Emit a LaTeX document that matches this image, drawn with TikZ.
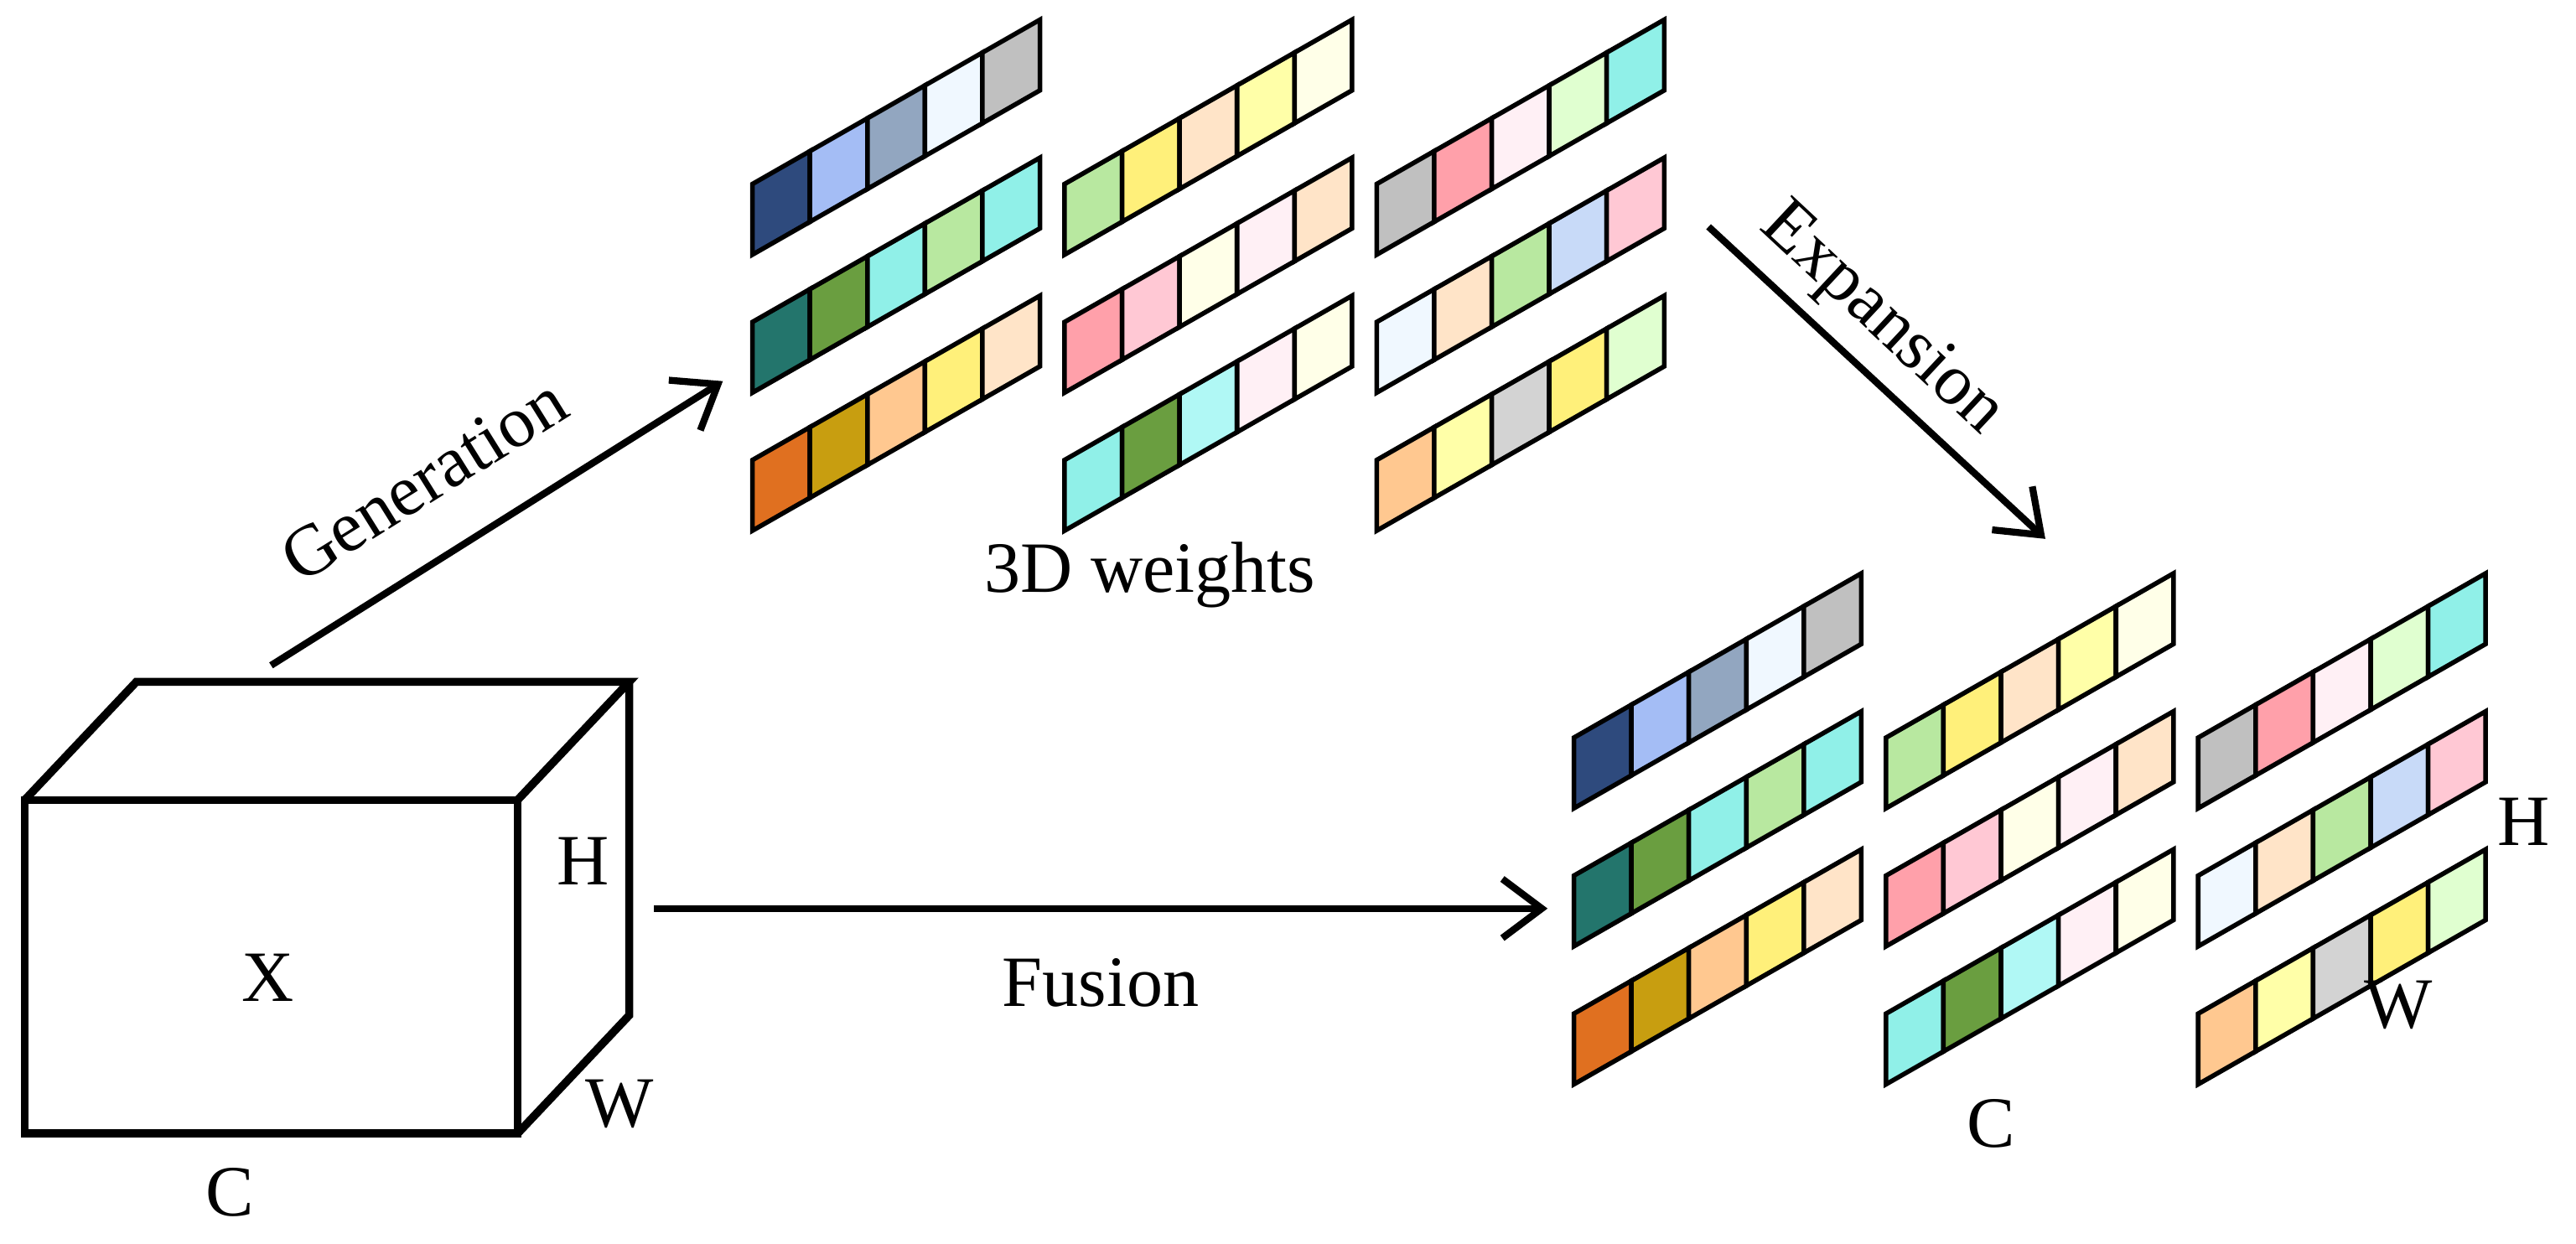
\documentclass[tikz,border=0pt]{standalone}
\usepackage{fontspec}
\setmainfont{Liberation Serif}
\usetikzlibrary{arrows.meta}
\definecolor{cA}{HTML}{2E4A7D}\definecolor{cB}{HTML}{A4BDF5}\definecolor{cC}{HTML}{92A6C0}
\definecolor{cD}{HTML}{F0F8FF}\definecolor{cE}{HTML}{C0C0C0}\definecolor{cF}{HTML}{23756C}
\definecolor{cG}{HTML}{6A9E40}\definecolor{cH}{HTML}{90F0E8}\definecolor{cI}{HTML}{B8E8A0}
\definecolor{cJ}{HTML}{E07020}\definecolor{cK}{HTML}{C89E10}\definecolor{cL}{HTML}{FFC890}
\definecolor{cM}{HTML}{FFF07A}\definecolor{cN}{HTML}{FFE4C8}\definecolor{cO}{HTML}{FFFFA8}
\definecolor{cP}{HTML}{FFFFE8}\definecolor{cQ}{HTML}{FFA0AA}\definecolor{cR}{HTML}{FFC8D4}
\definecolor{cS}{HTML}{B0F8F5}\definecolor{cT}{HTML}{FFF0F5}\definecolor{cU}{HTML}{E0FFD0}
\definecolor{cV}{HTML}{C8DAF8}\definecolor{cW}{HTML}{D3D3D3}
\newcommand{\weightstrip}[3]{%
  \foreach \c [count=\i from 0] in {#3}
    \draw [cell] (#1+35*\i,#2-20*\i) -- ++(35,-20) -- ++(0,-43) -- ++(-35,20) -- cycle [fill=\c];
}
\newcommand{\weightblock}[2]{%
  \weightstrip{#1}{#2}{cA,cB,cC,cD,cE}
  \weightstrip{#1}{#2+84}{cF,cG,cH,cI,cH}
  \weightstrip{#1}{#2+168}{cJ,cK,cL,cM,cN}
  \weightstrip{#1+190}{#2}{cI,cM,cN,cO,cP}
  \weightstrip{#1+190}{#2+84}{cQ,cR,cP,cT,cN}
  \weightstrip{#1+190}{#2+168}{cH,cG,cS,cT,cP}
  \weightstrip{#1+380}{#2}{cE,cQ,cT,cU,cH}
  \weightstrip{#1+380}{#2+84}{cD,cN,cI,cV,cR}
  \weightstrip{#1+380}{#2+168}{cL,cO,cW,cM,cU}
}
\tikzset{
    cell/.style={draw,line width=0.8pt,line join=miter},
    box edge/.style={draw,line width=1.4pt,line join=miter},
    flow arrow/.style={draw,line width=1.2pt,-{Straight Barb[length=2.4mm,width=3.6mm]}},
    txt/.style={font=\fontsize{12.5}{14}\selectfont,inner sep=0pt},
}
\begin{document}
\begin{tikzpicture}[x=0.01cm,y=-0.01cm]
\useasboundingbox (0,0) rectangle (1568,757);

% input cube
\draw [box edge] (15,487) rectangle (315,690);
\draw [box edge] (15,487) -- (83,415) -- (383,415) -- (315,487);
\draw [box edge] (383,415) -- (383,618) -- (315,690);
\node [txt] (x) at (163,595) {X};
\node [txt] (h1) at (355,524) {H};
\node [txt] (w1) at (377,672) {W};
\node [txt] (c1) at (140,726) {C};

% weights
\weightblock{458}{155}
\node [txt] (wts) at (700,350) {3D weights};
\weightblock{958}{492}
\node [txt] (h2) at (1536,500) {H};
\node [txt] (w2) at (1460,612) {W};
\node [txt] (c2) at (1212,684) {C};

% arrows
\coordinate (gen s) at (165,405);
\coordinate (gen e) at (440,232);
\coordinate (fus s) at (398,553);
\coordinate (fus e) at (942,553);
\coordinate (exp s) at (1040,138);
\coordinate (exp e) at (1245,328);
\draw [flow arrow] (gen s) -- (gen e);
\draw [flow arrow] (fus s) -- (fus e);
\draw [flow arrow] (exp s) -- (exp e);
\node [txt,rotate=32] (gen) at (258,292) {Generation};
\node [txt] (fus) at (670,598) {Fusion};
\node [txt,rotate=-43] (exp) at (1145,195) {Expansion};
\end{tikzpicture}
\end{document}
